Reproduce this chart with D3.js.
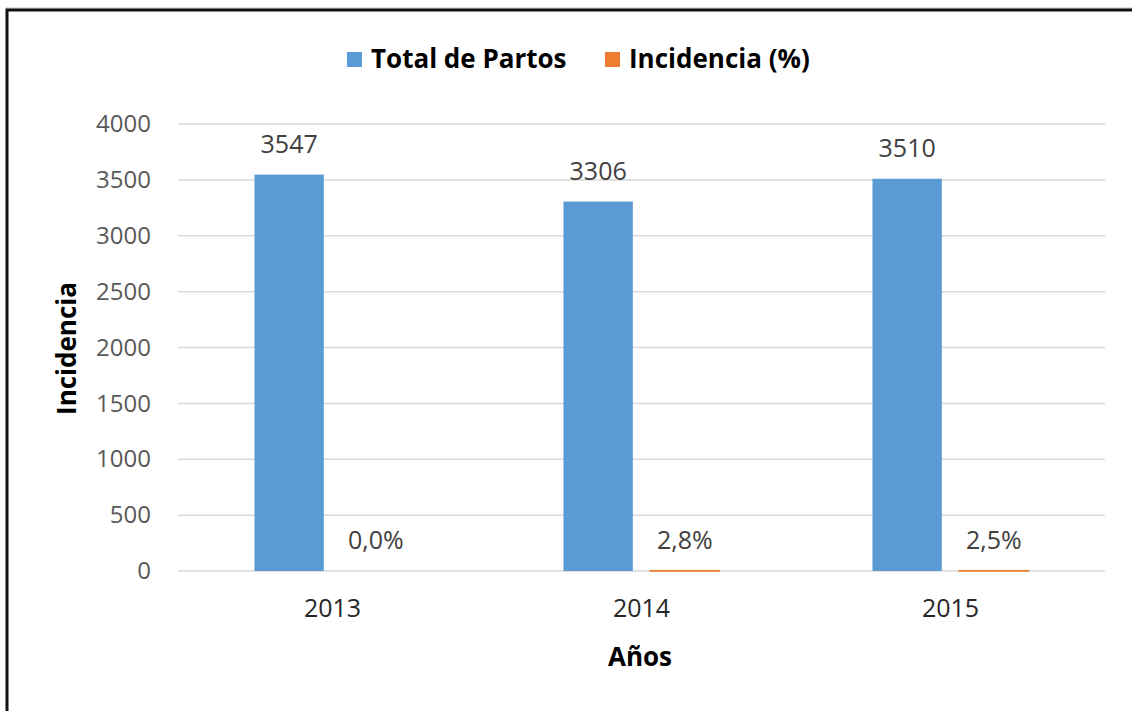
<!DOCTYPE html>
<html lang="es">
<head>
  <meta charset="UTF-8">
  <title>Total de Partos e Incidencia por Año</title>
  <script src="https://d3js.org/d3.v7.min.js"></script>
  <style>
    body {
      margin: 0;
      background: #fff;
      font-family: "Open Sans", Arial, sans-serif;
    }
    .grid line {
      stroke: #d9d9d9;
      stroke-width: 1.5;
    }
  </style>
</head>
<body>
  <div id="chart"></div>

  <script>
    // Datos
    const years = ["2013", "2014", "2015"];
    const totalPartos = [3547, 3306, 3510];
    const incidencia = [0.0, 2.8, 2.5];
    const yTicks = [0, 500, 1000, 1500, 2000, 2500, 3000, 3500, 4000];
    const seriesNames = ["Total de Partos", "Incidencia (%)"];
    const colors = ["#5b9bd5", "#ed7d31"];

    const W = 1132, H = 711;
    const margin = {top: 124, right: 27, bottom: 140, left: 178},
          width = W - margin.left - margin.right,
          height = H - margin.top - margin.bottom;

    const root = d3.select("#chart")
      .append("svg")
      .attr("width", W)
      .attr("height", H);

    // marco
    root.append("line").attr("x1", 6).attr("x2", W).attr("y1", 8).attr("y2", 8)
      .attr("stroke", "#bbb").attr("stroke-width", 1);
    root.append("path")
      .attr("d", `M${W},10 L7,10 L7,${H}`)
      .attr("fill", "none")
      .attr("stroke", "#111")
      .attr("stroke-width", 3);

    const svg = root.append("g")
      .attr("transform", `translate(${margin.left},${margin.top})`);

    const data = years.map((y, i) => ({year: y, values: [totalPartos[i], incidencia[i]]}));

    const x0 = d3.scaleBand().domain(years).range([0, width]).paddingInner(0.495).paddingOuter(0.2475);
    const x1 = d3.scaleBand().domain([0, 1]).range([0, x0.bandwidth()]).paddingInner(0.2);
    const y = d3.scaleLinear().domain([0, 4000]).range([height, 0]);

    // rejilla
    svg.append("g")
      .attr("class", "grid")
      .selectAll("line")
      .data(yTicks)
      .join("line")
      .attr("x1", 0)
      .attr("x2", width)
      .attr("y1", d => y(d))
      .attr("y2", d => y(d));

    // eje Y
    const yAxis = d3.axisLeft(y).tickValues(yTicks).tickFormat(d3.format("d")).tickSize(0).tickPadding(27);
    svg.append("g").call(yAxis)
      .call(g => g.select(".domain").remove())
      .selectAll("text")
      .style("font-family", "'Open Sans', Arial, sans-serif")
      .style("font-size", "24px")
      .attr("fill", "#595959");

    // eje X
    const xAxis = d3.axisBottom(x0).tickSize(0).tickPadding(28);
    svg.append("g").attr("transform", `translate(0,${height})`).call(xAxis)
      .call(g => g.select(".domain").remove())
      .selectAll("text")
      .style("font-family", "'Open Sans', Arial, sans-serif")
      .style("font-size", "25px")
      .attr("fill", "#262626");

    // barras
    const groups = svg.selectAll(".year")
      .data(data)
      .join("g")
      .attr("class", "year")
      .attr("transform", d => `translate(${x0(d.year)},0)`);

    groups.selectAll("rect")
      .data(d => d.values.map((v, k) => ({k, v})))
      .join("rect")
      .attr("x", d => x1(d.k))
      .attr("width", x1.bandwidth())
      .attr("y", d => y(d.v))
      .attr("height", d => height - y(d.v))
      .attr("fill", d => colors[d.k])
      .attr("stroke", d => d.k === 1 && d.v > 0 ? colors[1] : "none")
      .attr("stroke-width", 1.5);

    // etiquetas de datos
    groups.selectAll(".lbl")
      .data(d => d.values.map((v, k) => ({k, v})))
      .join("text")
      .attr("class", "lbl")
      .attr("x", d => x1(d.k) + x1.bandwidth() / 2)
      .attr("y", d => y(d.v) - 22)
      .attr("text-anchor", "middle")
      .style("font-size", "25px")
      .attr("fill", "#404040")
      .text(d => d.k === 0 ? d.v : d.v.toFixed(1).replace(".", ",") + "%");

    // títulos de ejes
    root.append("text")
      .attr("transform", `translate(76,${margin.top + height / 2 + 1}) rotate(-90)`)
      .attr("text-anchor", "middle")
      .style("font-size", "26px")
      .style("font-weight", "bold")
      .attr("fill", "#000")
      .text("Incidencia");

    root.append("text")
      .attr("x", 640)
      .attr("y", 666)
      .attr("text-anchor", "middle")
      .style("font-size", "26px")
      .style("font-weight", "bold")
      .attr("fill", "#000")
      .text("Años");

    // leyenda
    const legendX = [347, 605];
    const legend = root.append("g");
    seriesNames.forEach((name, i) => {
      legend.append("rect")
        .attr("x", legendX[i])
        .attr("y", 52)
        .attr("width", 15)
        .attr("height", 15)
        .attr("fill", colors[i]);
      legend.append("text")
        .attr("x", legendX[i] + 24)
        .attr("y", 68)
        .style("font-size", "26px")
        .style("font-weight", "bold")
        .attr("fill", "#000")
        .text(name);
    });
  </script>
</body>
</html>
